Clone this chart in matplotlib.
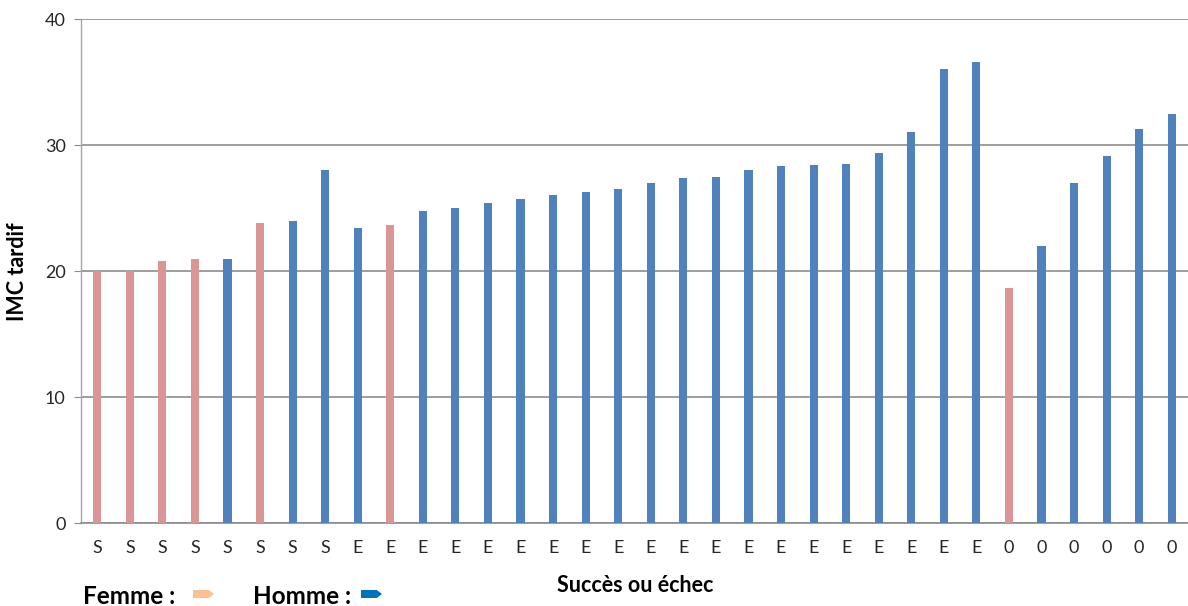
import matplotlib
matplotlib.use("Agg")
import matplotlib.pyplot as plt
from matplotlib.patches import Polygon

plt.rcParams['font.family'] = ['Lato', 'DejaVu Sans']

# Data
categories = ["S"] * 8 + ["E"] * 20 + ["0"] * 6
values = [20.0, 20.0, 20.8, 20.95, 20.95, 23.8, 24.0, 28.0,
          23.4, 23.65, 24.75, 25.0, 25.4, 25.75, 26.0, 26.3, 26.5, 27.0,
          27.4, 27.5, 28.0, 28.3, 28.4, 28.5, 29.4, 31.0, 36.05, 36.55,
          18.65, 21.95, 27.0, 29.15, 31.25, 32.45]
sexes = ["F", "F", "F", "F", "H", "F", "H", "H",
         "H", "F", "H", "H", "H", "H", "H", "H", "H", "H",
         "H", "H", "H", "H", "H", "H", "H", "H", "H", "H",
         "F", "H", "H", "H", "H", "H"]
yticks = [0, 10, 20, 30, 40]
ylabel = "IMC tardif"
xlabel = "Succès ou échec"
legend_labels = ["Femme :", "Homme :"]

bar_colors = {"F": "#D99694", "H": "#4F81BD"}
legend_colors = ["#FAC090", "#0070C0"]

W, H = 1188, 606
fig = plt.figure(figsize=(W / 100, H / 100), dpi=100)
ax = fig.add_axes([81 / W, (H - 523) / H, 1 - 81 / W, (523 - 19) / H])

x = list(range(len(values)))
ax.bar(x, values, width=0.25, color=[bar_colors[s] for s in sexes],
       edgecolor="none", zorder=3)

ax.set_xlim(-0.5, len(values) - 0.5)
ax.set_ylim(0, 40)
ax.set_yticks(yticks)
ax.set_xticks(x)
ax.set_xticklabels(categories)
ax.yaxis.grid(True, color="#8C8C8C", linewidth=1.2, zorder=0)
ax.set_axisbelow(True)

for s in ["top", "right"]:
    ax.spines[s].set_visible(False)
ax.spines["left"].set_color("#A6A6A6")
ax.spines["left"].set_linewidth(1.0)
ax.spines["bottom"].set_color("#8C8C8C")
ax.spines["bottom"].set_linewidth(1.2)

ax.tick_params(axis="y", length=5, color="#8C8C8C", labelsize=13,
               labelcolor="#262626", pad=6)
ax.tick_params(axis="x", length=0, labelsize=13, labelcolor="#262626", pad=12)

fig.text(18 / W, 1 - 272 / H, ylabel, rotation=90, ha="center", va="center",
         fontsize=15.5, fontweight="bold", color="black")
fig.text(635 / W, 1 - 585 / H, xlabel, ha="center", va="center",
         fontsize=15.5, fontweight="bold", color="black")

# Legend (custom, as in original)
fig.text(83 / W, 1 - 596 / H, legend_labels[0], ha="left", va="center",
         fontsize=17.5, fontweight="bold", color="black")
fig.text(253 / W, 1 - 596 / H, legend_labels[1], ha="left", va="center",
         fontsize=17.5, fontweight="bold", color="black")


def arrow(x0, y0, w, h, color):
    pts = [(x0, y0 - h / 2), (x0 + w * 0.75, y0 - h / 2), (x0 + w, y0),
           (x0 + w * 0.75, y0 + h / 2), (x0, y0 + h / 2)]
    pts = [(px / W, 1 - py / H) for px, py in pts]
    fig.patches.append(Polygon(pts, closed=True, transform=fig.transFigure,
                               facecolor=color, edgecolor="none"))


arrow(193, 594, 21, 8, legend_colors[0])
arrow(361, 594, 21, 8, legend_colors[1])

fig.savefig("out.png", dpi=100)
